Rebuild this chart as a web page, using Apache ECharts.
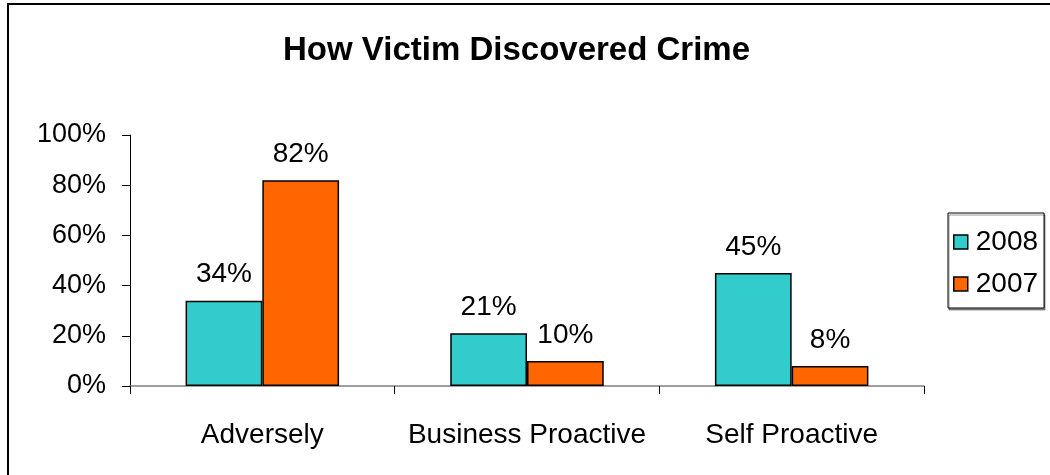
<!DOCTYPE html>
<html>
<head>
<meta charset="utf-8">
<script src="https://cdn.jsdelivr.net/npm/echarts@6/dist/echarts.min.js"></script>
<style>html,body{margin:0;padding:0;background:#fff}#c{width:1050px;height:475px}</style>
</head>
<body>
<div id="c"></div>
<script>
const categories = ['Adversely', 'Business Proactive', 'Self Proactive'];
const seriesNames = ['2008', '2007'];
const values2008 = [34, 21, 45];
const values2007 = [82, 10, 8];
const yTicks = [0, 20, 40, 60, 80, 100];

const FONT = '"Liberation Sans", Arial, sans-serif';
const chart = echarts.init(document.getElementById('c'));
const labelStyle = {
  show: true, position: 'top', distance: 12,
  formatter: p => p.value + '%', fontSize: 28, fontFamily: FONT, color: '#000'
};
chart.setOption({
  animation: false,
  backgroundColor: '#fff',
  title: {
    text: 'How Victim Discovered Crime',
    left: 283, top: 34, padding: 0,
    textStyle: { fontSize: 33, fontWeight: 'bold', fontFamily: FONT, color: '#000' }
  },
  graphic: [{
    type: 'rect', silent: true,
    shape: { x: 8, y: 4, width: 1100, height: 600 },
    style: { fill: 'none', stroke: '#000', lineWidth: 2 }
  }],
  legend: {
    orient: 'vertical', left: 948, top: 213,
    padding: [15, 6, 10, 5], itemGap: 14,
    itemWidth: 14, itemHeight: 14,
    borderColor: '#000', borderWidth: 1,
    shadowColor: 'rgba(0,0,0,0.4)', shadowOffsetX: 1, shadowOffsetY: 2, shadowBlur: 0,
    backgroundColor: '#fff',
    icon: 'rect',
    itemStyle: { borderColor: '#000', borderWidth: 1.5 },
    textStyle: { fontSize: 28, fontFamily: FONT, color: '#000', padding: [0, 0, 0, 3] },
    data: seriesNames
  },
  grid: { left: 130, right: 126, top: 135, bottom: 89, containLabel: false },
  xAxis: {
    type: 'category', data: categories,
    axisLine: { lineStyle: { color: '#808080', width: 1.5 } },
    axisTick: { show: true, length: 8, lineStyle: { color: '#000' } },
    axisLabel: { interval: 0, fontSize: 28, fontFamily: FONT, color: '#000', margin: 35 }
  },
  yAxis: {
    type: 'value', min: 0, max: 100, interval: 20,
    axisLine: { show: true, lineStyle: { color: '#000' } },
    axisTick: { show: true, length: 8, lineStyle: { color: '#000' } },
    splitLine: { show: false },
    axisLabel: { fontSize: 27, fontFamily: FONT, color: '#000', margin: 24, formatter: v => v + '%' }
  },
  series: [
    { name: seriesNames[0], type: 'bar', data: values2008, barGap: '0%', barCategoryGap: '42%',
      itemStyle: { color: '#33CCCC', borderColor: '#000', borderWidth: 1.5 }, label: labelStyle },
    { name: seriesNames[1], type: 'bar', data: values2007, barGap: '0%', barCategoryGap: '42%',
      itemStyle: { color: '#FF6600', borderColor: '#000', borderWidth: 1.5 }, label: labelStyle }
  ]
});
</script>
</body>
</html>
